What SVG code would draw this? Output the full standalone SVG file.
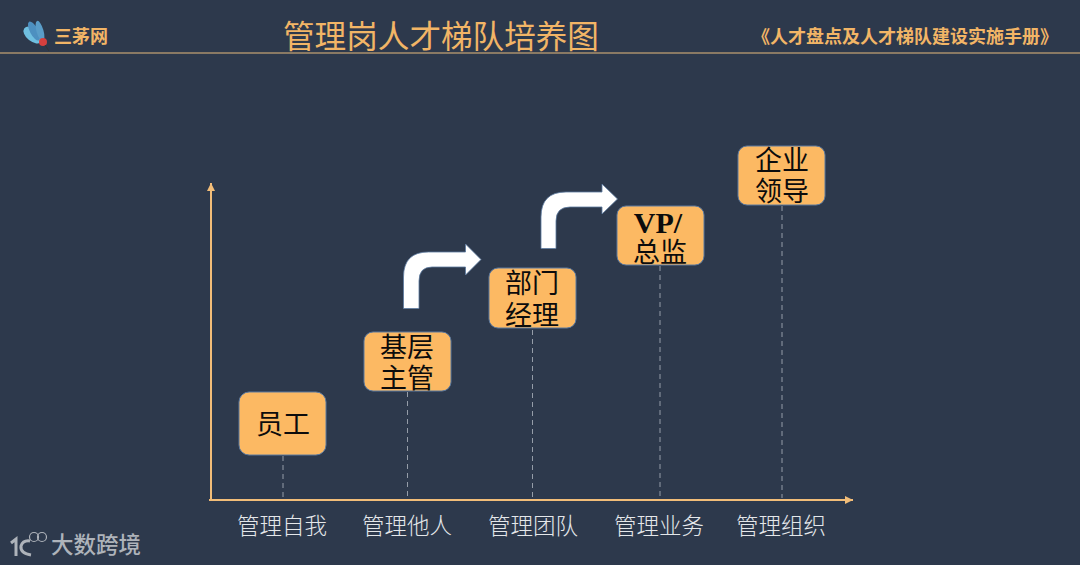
<svg xmlns="http://www.w3.org/2000/svg" width="1080" height="565" viewBox="0 0 1080 565">
<style>
.gold{fill:#f2b566}
.box{fill:#fcb963;stroke:#5c7aa0;stroke-width:1}
.lab{font-size:27px;fill:#0c0c0c;text-anchor:middle;font-family:"Liberation Serif","Noto Sans CJK SC",serif}
.ax{font-size:22.500px;fill:#e4e7ea;text-anchor:middle;font-family:"Noto Sans CJK SC",sans-serif;font-weight:300}
.dash{stroke:#959da8;stroke-width:1;stroke-dasharray:5 4;fill:none}
.arrow{fill:#fff;stroke:#5c7aa0;stroke-width:.8}
</style>
<defs>
<marker id="ah" markerUnits="userSpaceOnUse" markerWidth="9" markerHeight="9" refX="8" refY="4" orient="auto"><path d="M0 0L8 4L0 8z" fill="#f2bd78"/></marker>
</defs>
<rect width="1080" height="565" fill="#2d394c"/>
<g id="header">
<rect x="0" y="52" width="1080" height="2" fill="#8a7a64"/>
<g id="logo">
<ellipse cx="33" cy="35" rx="11" ry="6.500" transform="rotate(38 33 35)" fill="#6fbfe0"/>
<ellipse cx="34" cy="31" rx="10.500" ry="4" transform="rotate(62 34 31)" fill="#4d90c0"/>
<ellipse cx="40" cy="31" rx="10.500" ry="3.500" transform="rotate(74 40 31)" fill="#5a9dc8"/>
<circle cx="43" cy="42" r="4" fill="#d6403e"/>
<path d="M45 45L49 51" stroke="#333" stroke-width="1"/>
</g>
<text x="54" y="43" font-size="18" font-weight="700" fill="#f2b566" style="font-family:'Noto Sans CJK SC',sans-serif">三茅网</text>
<text x="441" y="48" text-anchor="middle" font-size="31.600" fill="#f2b566" style="font-family:'Noto Sans CJK SC',sans-serif">管理岗人才梯队培养图</text>
<text x="905" y="43" text-anchor="middle" font-size="18" font-weight="700" fill="#f2b566" style="font-family:'Noto Sans CJK SC',sans-serif">《人才盘点及人才梯队建设实施手册》</text>
</g>
<g id="connectors">
<path d="M211 500V183" stroke="#f2bd78" stroke-width="2" fill="none" marker-end="url(#ah)"/>
<path d="M209 500H853" stroke="#f2bd78" stroke-width="2" fill="none" marker-end="url(#ah)"/>
<path class="dash" d="M283 456V498"/>
<path class="dash" d="M407.500 392V498"/>
<path class="dash" d="M532.500 330V498"/>
<path class="dash" d="M660 266V498"/>
<path class="dash" d="M782 206V498"/>
<path id="step1" class="arrow" d="M403.500 308.500V277Q403.500 252 428.500 252H465.500V244L481 259.500L465.500 275V267H432Q419 267 419 281V308.500z"/>
<path id="step2" class="arrow" d="M541 248.500V217Q541 192 566 192H602V184L617.500 199L602 214V207H570Q556 207 556 221V248.500z"/>
</g>
<g id="n1"><rect class="box" x="239" y="392" width="87" height="63" rx="10"/><text class="lab" x="283" y="434">员工</text></g>
<g id="n2"><rect class="box" x="364" y="332" width="87" height="59" rx="9"/><text class="lab" x="407" y="357">基层</text><text class="lab" x="407" y="388">主管</text></g>
<g id="n3"><rect class="box" x="489" y="268" width="87" height="60" rx="9"/><text class="lab" x="532" y="293">部门</text><text class="lab" x="532" y="325">经理</text></g>
<g id="n4"><rect class="box" x="617" y="206" width="87" height="59" rx="9"/><text class="lab" x="658" y="233" style="font-size:30px;font-weight:700">VP/</text><text class="lab" x="660" y="262">总监</text></g>
<g id="n5"><rect class="box" x="738" y="146" width="87" height="59" rx="9"/><text class="lab" x="782" y="170">企业</text><text class="lab" x="782" y="201">领导</text></g>
<g id="axis-labels">
<text class="ax" x="282" y="534">管理自我</text>
<text class="ax" x="407" y="534">管理他人</text>
<text class="ax" x="533" y="534">管理团队</text>
<text class="ax" x="659" y="534">管理业务</text>
<text class="ax" x="781" y="534">管理组织</text>
</g>
<g id="watermark" fill="#aeb3ba">
<path d="M11 543L16 539V556" fill="none" stroke="#aeb3ba" stroke-width="3"/>
<path d="M30 541Q23 540 21 546Q20 553 31 555" fill="none" stroke="#aeb3ba" stroke-width="3"/>
<circle cx="34" cy="537" r="4.500" fill="none" stroke="#aeb3ba" stroke-width="1.200"/>
<circle cx="42" cy="537" r="4.500" fill="none" stroke="#aeb3ba" stroke-width="1.200"/>
<text x="51" y="553" font-size="22.500" font-weight="500" style="font-family:'Noto Sans CJK SC',sans-serif">大数跨境</text>
</g>
</svg>
